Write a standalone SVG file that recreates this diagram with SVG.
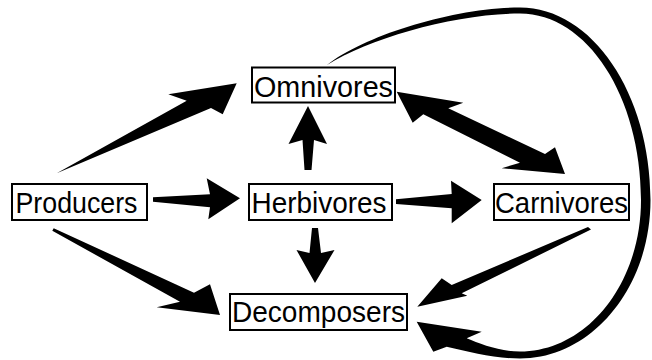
<svg xmlns="http://www.w3.org/2000/svg" width="652" height="360" viewBox="0 0 652 360">
  <style>
    .box { fill: #ffffff; stroke: #000000; stroke-width: 2; }
    .label { font-family: "Liberation Sans", Arial, Helvetica, sans-serif; font-size: 29px; fill: #000000; }
    .arrow { fill: #000000; stroke: none; }
  </style>
  <rect width="652" height="360" fill="#ffffff"/>

  <!-- tapered block arrows between the trophic groups -->
  <g id="connectors">
    <polygon class="arrow" points="56.7,173.3 186.7,100.7 168.3,94.3 236.7,83.3 222.7,114.3 211,108"/>
    <polygon class="arrow" points="153,197.3 210,194.3 206.7,178.3 240,198.3 208.3,219.3 210,207.3 153,201.7"/>
    <polygon class="arrow" points="53.7,228.2 194,292.7 210,284.3 220,315 156.7,307.3 180,301.7 52.3,230.8"/>
    <polygon class="arrow" points="304.5,170 302.5,140 288.5,144 308,106 327,144 314,140 311.5,170"/>
    <polygon class="arrow" points="312,228 309.5,253 296.5,250 315,283 334.5,250 321,253 318,228"/>
    <polygon class="arrow" points="396,199.3 451.7,194 451,180.7 481.7,200 451.7,223.3 451.7,208.3 396,204"/>
    <polygon class="arrow" points="396.7,91.7 463.3,102.7 448.3,108.3 545,154 555,147.3 565,174 501.7,168.3 520,162.7 423.3,114.3 412.7,122.7"/>
    <polygon class="arrow" points="588,227 451.7,285 441.7,278.3 417.3,306.7 467.3,295.7 461.7,293.3 591,229.5"/>
    <!-- long return loop from Omnivores round the right side to Decomposers -->
    <path class="arrow" d="M 327,65 C 365,35 455,7.5 520,7.5 C 592,7.5 650.5,93.7 650.5,200 C 650.5,287.5 592,358.5 520,358.5 C 495,358.5 470,352 446.7,346.7 L 433.3,351.7 L 416.7,321.7 L 481.7,331.7 L 466.7,338.3 C 480,344 500,351.5 520,351.5 C 587,351.5 641,283.7 641,200 C 641,96.4 587,13.5 520,13.5 C 455,13.5 370,38 327,65 Z"/>
  </g>

  <g id="producers">
    <rect class="box" x="12" y="184" width="135" height="36"/>
    <text class="label" x="15.5" y="212.5" textLength="122" lengthAdjust="spacingAndGlyphs">Producers</text>
  </g>
  <g id="omnivores">
    <rect class="box" x="252" y="67.5" width="143" height="35"/>
    <text class="label" x="254" y="96.5" textLength="139" lengthAdjust="spacingAndGlyphs">Omnivores</text>
  </g>
  <g id="herbivores">
    <rect class="box" x="249" y="184" width="143" height="36"/>
    <text class="label" x="251.5" y="212.5" textLength="135" lengthAdjust="spacingAndGlyphs">Herbivores</text>
  </g>
  <g id="carnivores">
    <rect class="box" x="494" y="184" width="135" height="36"/>
    <text class="label" x="495" y="212.5" textLength="133" lengthAdjust="spacingAndGlyphs">Carnivores</text>
  </g>
  <g id="decomposers">
    <rect class="box" x="230" y="294" width="177" height="36"/>
    <text class="label" x="232" y="321.5" textLength="173" lengthAdjust="spacingAndGlyphs">Decomposers</text>
  </g>
</svg>
